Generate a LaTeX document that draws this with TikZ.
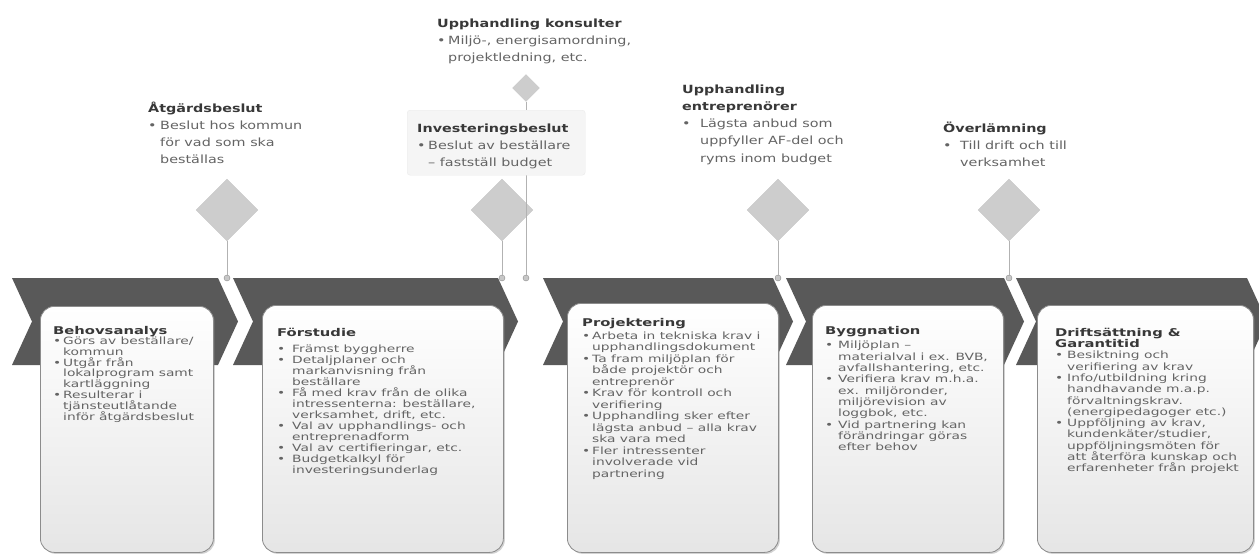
\documentclass[tikz,border=0pt]{standalone}
\usepackage{fontspec}
\setmainfont[FakeStretch=1.27]{DejaVu Sans}
\newfontfamily\boxfont[FakeStretch=1.38]{DejaVu Sans}
\usetikzlibrary{shapes.geometric,shadows}

\definecolor{chevgray}{HTML}{595959}
\definecolor{diagray}{HTML}{CDCDCD}
\definecolor{txtgray}{HTML}{646464}
\definecolor{headgray}{HTML}{383838}

% bullets with a hanging indent
\def\bwid{10pt}
\newcommand{\bul}{\makebox[\bwid][l]{•}}
\newcommand{\ind}{\hspace*{\bwid}}
\newcommand{\bhead}[1]{{\color{headgray}\bfseries\fontsize{10.7}{11.3}\selectfont #1}}
\newcommand{\lhead}[1]{{\color{headgray}\bfseries #1}}

\tikzset{
  bullet width/.code={\def\bwid{#1}},
  stagebox/.style={draw=black!45, line width=0.8pt, rounded corners=14pt,
    top color=white, bottom color=black!10, anchor=north west,
    drop shadow={shadow xshift=1.5pt, shadow yshift=-1.5pt, opacity=0.35}},
  boxtext/.style={anchor=north west, align=left, inner sep=0pt, text=txtgray,
    font=\boxfont\fontsize{10}{11.3}\selectfont},
  labeltext/.style={anchor=north west, align=left, inner sep=0pt, text=txtgray,
    font=\fontsize{11.3}{17.2}\selectfont},
  milestone/.style={diamond, draw=black!22, fill=diagray, inner sep=0pt,
    minimum width=62, minimum height=62},
  dot/.style={circle, draw=black!45, fill=black!22, inner sep=0pt, minimum size=6},
  stem/.style={draw=black!30, line width=0.8pt},
}

\begin{document}
\begin{tikzpicture}[x=1pt,y=-1pt]
    \path[use as bounding box, fill=white] (0,0) rectangle (1259,555);

    % Chevrons
    \foreach \xl/\xr in {12/218, 233/498, 543/773, 786/1004, 1016/1247} {
        \fill[chevgray] (\xl,278) -- (\xr,278) -- (\xr+20,321.5) -- (\xr,365)
            -- (\xl,365) -- (\xl+20,321.5) -- cycle;
    }

    % Phase boxes
    \node[stagebox, minimum width=173, minimum height=246] (b1) at (40,306) {};
    \node[stagebox, minimum width=241, minimum height=247] (b2) at (262,305) {};
    \node[stagebox, minimum width=211, minimum height=249] (b3) at (567,303) {};
    \node[stagebox, minimum width=191, minimum height=247] (b4) at (812,305) {};
    \node[stagebox, minimum width=216, minimum height=247] (b5) at (1037,305) {};

    \node[boxtext, bullet width=10pt, font=\boxfont\fontsize{10}{10.7}\selectfont] (t1) at (53,325.8) {%
        \bhead{Behovsanalys}\\
        \bul Görs av beställare/\\
        \ind kommun\\
        \bul Utgår från\\
        \ind lokalprogram samt\\
        \ind kartläggning\\
        \bul Resulterar i\\
        \ind tjänsteutlåtande\\
        \ind inför åtgärdsbeslut};
    \node[boxtext, bullet width=15pt, font=\boxfont\fontsize{10}{11}\selectfont] (t2) at (277,327.8) {%
        \bhead{Förstudie}\\[5.5pt]
        \bul Främst byggherre\\
        \bul Detaljplaner och\\
        \ind markanvisning från\\
        \ind beställare\\
        \bul Få med krav från de olika\\
        \ind intressenterna: beställare,\\
        \ind verksamhet, drift, etc.\\
        \bul Val av upphandlings- och\\
        \ind entreprenadform\\
        \bul Val av certifieringar, etc.\\
        \bul Budgetkalkyl för\\
        \ind investeringsunderlag};
    \node[boxtext, bullet width=10pt, font=\boxfont\fontsize{10}{11.5}\selectfont] (t3) at (582,317.8) {%
        \bhead{Projektering}\\[1.5pt]
        \bul Arbeta in tekniska krav i\\
        \ind upphandlingsdokument\\
        \bul Ta fram miljöplan för\\
        \ind både projektör och\\
        \ind entreprenör\\
        \bul Krav för kontroll och\\
        \ind verifiering\\
        \bul Upphandling sker efter\\
        \ind lägsta anbud – alla krav\\
        \ind ska vara med\\
        \bul Fler intressenter\\
        \ind involverade vid\\
        \ind partnering};
    \node[boxtext, bullet width=13pt] (t4) at (825,325.8) {%
        \bhead{Byggnation}\\[3.5pt]
        \bul Miljöplan –\\
        \ind materialval i ex. BVB,\\
        \ind avfallshantering, etc.\\
        \bul Verifiera krav m.h.a.\\
        \ind ex. miljöronder,\\
        \ind miljörevision av\\
        \ind loggbok, etc.\\
        \bul Vid partnering kan\\
        \ind förändringar göras\\
        \ind efter behov};
    \node[boxtext, bullet width=12pt] (t5) at (1055,327.8) {%
        \bhead{Driftsättning \&}\\
        \bhead{Garantitid}\\
        \bul Besiktning och\\
        \ind verifiering av krav\\
        \bul Info/utbildning kring\\
        \ind handhavande m.a.p.\\
        \ind förvaltningskrav.\\
        \ind (energipedagoger etc.)\\
        \bul Uppföljning av krav,\\
        \ind kundenkäter/studier,\\
        \ind uppföljningsmöten för\\
        \ind att återföra kunskap och\\
        \ind erfarenheter från projekt};

    % Milestones
    \node[milestone] (m1) at (227,210) {};
    \node[milestone] (m2) at (502,210) {};
    \node[milestone, minimum width=27, minimum height=27] (m3) at (526,88) {};
    \node[milestone] (m4) at (778,210) {};
    \node[milestone] (m5) at (1009,210) {};

    \node[dot] (p1) at (227,278) {};
    \node[dot] (p2) at (502,278) {};
    \node[dot] (p3) at (526,278) {};
    \node[dot] (p4) at (778,278) {};
    \node[dot] (p5) at (1009,278) {};

    \draw[stem] (m1) -- (p1);
    \draw[stem] (m2) -- (p2);
    \draw[stem] (m3) -- (p3);
    \draw[stem] (m4) -- (p4);
    \draw[stem] (m5) -- (p5);

    % Milestone labels
    \node[labeltext, bullet width=12pt] (l1) at (148,101.6) {%
        \lhead{Åtgärdsbeslut}\\
        \bul Beslut hos kommun\\
        \ind för vad som ska\\
        \ind beställas};
    \node[anchor=north west, fill=black!4, draw=black!8, rounded corners=3pt,
        minimum width=178, minimum height=65] (invbg) at (407,110) {};
    \node[labeltext, bullet width=11pt] (l2) at (417,123.5) {%
        \lhead{Investeringsbeslut}\\
        \bul Beslut av beställare\\
        \ind – fastställ budget};
    \node[labeltext, bullet width=11pt] (l3) at (437,18.5) {%
        \lhead{Upphandling konsulter}\\
        \bul Miljö-, energisamordning,\\
        \ind projektledning, etc.};
    \node[labeltext, bullet width=18pt] (l4) at (682,84.5) {%
        \lhead{Upphandling}\\
        \lhead{entreprenörer}\\
        \bul Lägsta anbud som\\
        \ind uppfyller AF-del och\\
        \ind ryms inom budget};
    \node[labeltext, bullet width=17pt] (l5) at (943,121.8) {%
        \lhead{Överlämning}\\
        \bul Till drift och till\\
        \ind verksamhet};
\end{tikzpicture}
\end{document}
